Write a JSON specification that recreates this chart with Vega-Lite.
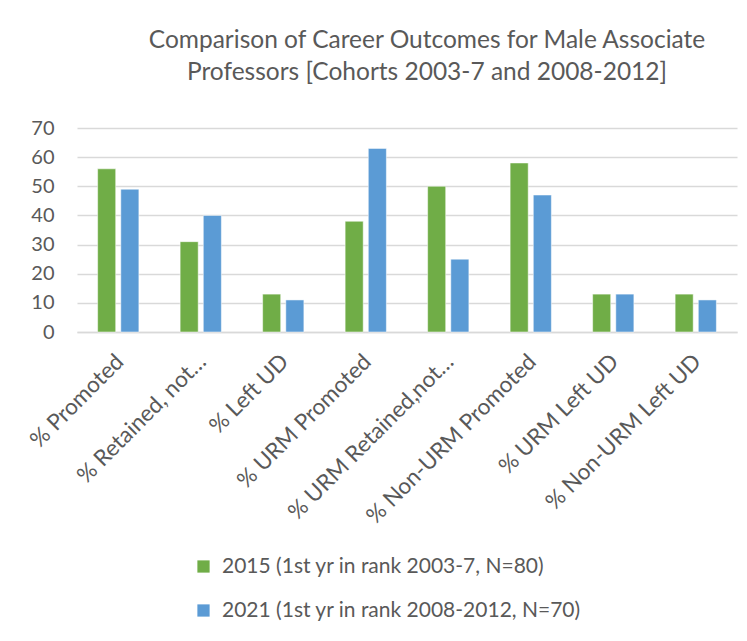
{
  "$schema": "https://vega.github.io/schema/vega-lite/v6.json",
  "autosize": "none",
  "width": 660,
  "height": 204,
  "padding": {"left": 77, "top": 128, "right": 10, "bottom": 309},
  "background": "white",
  "title": {
    "text": ["Comparison of Career Outcomes for Male  Associate", "Professors [Cohorts 2003-7 and 2008-2012]"],
    "font": "Lato",
    "fontSize": 24.5,
    "fontWeight": "normal",
    "color": "#595959",
    "lineHeight": 32,
    "anchor": "middle",
    "dx": 20,
    "offset": 33
  },
  "data": {
    "values": [
      {"outcome": "% Promoted", "cohort": "2015 (1st yr in rank 2003-7, N=80)", "value": 56},
      {"outcome": "% Promoted", "cohort": "2021 (1st yr in rank 2008-2012, N=70)", "value": 49},
      {"outcome": "% Retained, not…", "cohort": "2015 (1st yr in rank 2003-7, N=80)", "value": 31},
      {"outcome": "% Retained, not…", "cohort": "2021 (1st yr in rank 2008-2012, N=70)", "value": 40},
      {"outcome": "% Left UD", "cohort": "2015 (1st yr in rank 2003-7, N=80)", "value": 13},
      {"outcome": "% Left UD", "cohort": "2021 (1st yr in rank 2008-2012, N=70)", "value": 11},
      {"outcome": "% URM Promoted", "cohort": "2015 (1st yr in rank 2003-7, N=80)", "value": 38},
      {"outcome": "% URM Promoted", "cohort": "2021 (1st yr in rank 2008-2012, N=70)", "value": 63},
      {"outcome": "% URM Retained,not…", "cohort": "2015 (1st yr in rank 2003-7, N=80)", "value": 50},
      {"outcome": "% URM Retained,not…", "cohort": "2021 (1st yr in rank 2008-2012, N=70)", "value": 25},
      {"outcome": "% Non-URM Promoted", "cohort": "2015 (1st yr in rank 2003-7, N=80)", "value": 58},
      {"outcome": "% Non-URM Promoted", "cohort": "2021 (1st yr in rank 2008-2012, N=70)", "value": 47},
      {"outcome": "% URM Left UD", "cohort": "2015 (1st yr in rank 2003-7, N=80)", "value": 13},
      {"outcome": "% URM Left UD", "cohort": "2021 (1st yr in rank 2008-2012, N=70)", "value": 13},
      {"outcome": "% Non-URM Left UD", "cohort": "2015 (1st yr in rank 2003-7, N=80)", "value": 13},
      {"outcome": "% Non-URM Left UD", "cohort": "2021 (1st yr in rank 2008-2012, N=70)", "value": 11}
    ]
  },
  "mark": {"type": "bar", "stroke": "white", "strokeOpacity": 0.5, "strokeWidth": 1},
  "encoding": {
    "x": {
      "field": "outcome",
      "type": "nominal",
      "sort": null,
      "scale": {"paddingInner": 0.5, "paddingOuter": 0.25},
      "axis": {
        "title": null,
        "labelAngle": -45,
        "labelFont": "Lato",
        "labelFontSize": 22.5,
        "labelColor": "#595959",
        "labelPadding": 18,
        "labelOffset": -6,
        "labelLimit": 300,
        "ticks": false,
        "domainColor": "#D9D9D9",
        "domainWidth": 1.5
      }
    },
    "xOffset": {
      "field": "cohort",
      "type": "nominal",
      "scale": {"paddingInner": 0.22}
    },
    "y": {
      "field": "value",
      "type": "quantitative",
      "scale": {"domain": [0, 70]},
      "axis": {
        "title": null,
        "values": [0, 10, 20, 30, 40, 50, 60, 70],
        "labelFont": "Lato",
        "labelFontSize": 20,
        "labelColor": "#595959",
        "labelPadding": 23,
        "ticks": false,
        "domain": false,
        "gridColor": "#D9D9D9",
        "gridWidth": 1.5
      }
    },
    "color": {
      "field": "cohort",
      "type": "nominal",
      "scale": {"range": ["#70AD47", "#5B9BD5"]},
      "legend": {
        "title": null,
        "orient": "none",
        "legendX": 116,
        "legendY": 428,
        "direction": "vertical",
        "symbolType": "square",
        "symbolSize": 150,
        "symbolStrokeWidth": 0,
        "labelFont": "Lato",
        "labelFontSize": 21,
        "labelColor": "#595959",
        "labelOffset": 8,
        "labelLimit": 500,
        "rowPadding": 22
      }
    }
  },
  "config": {"view": {"stroke": null}}
}
